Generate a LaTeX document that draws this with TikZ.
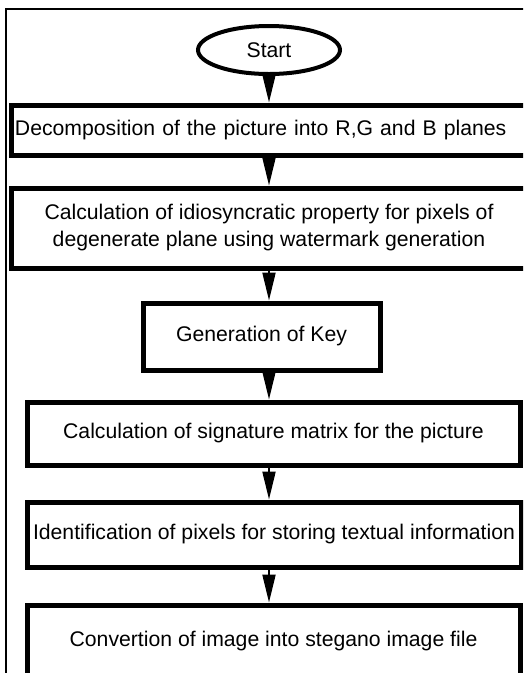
\documentclass[tikz,border=0pt]{standalone}
\usepackage{fontspec}
\setmainfont{Liberation Sans}
\usetikzlibrary{arrows.meta,shapes.geometric}

\begin{document}
\begin{tikzpicture}[x=1pt,y=-1pt,
    txt/.style={font=\fontsize{21.2}{27}\selectfont},
    box/.style={draw,line width=5pt,inner sep=0pt,txt},
    flow/.style={line width=2pt,-{Triangle[length=28pt,width=13pt]}}]
    \useasboundingbox (0,0) rectangle (523,673);
    \clip (0,0) rectangle (523,673);

    \draw[line width=2.2pt] (6,9) rectangle (560,720); % frame

    \node[ellipse,draw,line width=4pt,minimum width=142pt,minimum height=48pt,inner sep=0pt,txt] (start) at (269,50) {Start};
    \node[box,minimum width=516pt,minimum height=50pt,text width=508pt,align=left] (decomp) at (269,130) {Decomposition of the picture into R,G and B planes};
    \node[box,minimum width=516pt,minimum height=80pt,align=center] (idio) at (269,228) {Calculation of idiosyncratic property for pixels of\\degenerate plane using watermark generation};
    \node[box,minimum width=237pt,minimum height=67pt] (key) at (261.5,336.5) {Generation of Key};
    \node[box,minimum width=493pt,minimum height=63pt] (sign) at (273.5,433.5) {Calculation of signature matrix for the picture};
    \node[box,minimum width=494pt,minimum height=65pt] (ident) at (274,534.5) {Identification of pixels for storing textual information};
    \node[box,minimum width=493pt,minimum height=72pt] (conv) at (273.5,641) {Convertion of image into stegano image file};

    \draw[flow] (start.south) -- (decomp.north -| start); % 1
    \draw[flow] (decomp.south -| start) -- (idio.north -| start); % 2
    \draw[flow] (idio.south -| start) -- (key.north -| start); % 3
    \draw[flow] (key.south -| start) -- (sign.north -| start); % 4
    \draw[flow] (sign.south -| start) -- (ident.north -| start); % 5
    \draw[flow] (ident.south -| start) -- (conv.north -| start); % 6

\end{tikzpicture}
\end{document}
